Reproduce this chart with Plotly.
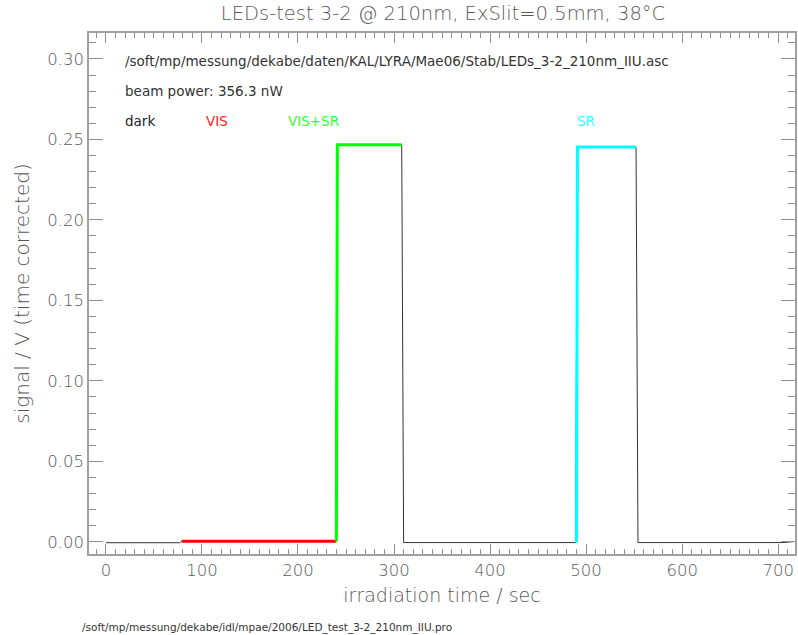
import plotly.graph_objects as go

# ---- data ----
full_t = [0, 77, 79, 239, 241, 308, 310, 489, 491, 552, 554, 705, 716]
full_v = [-0.0006, -0.0006, 0.0003, 0.0003, 0.2466, 0.2466, -0.0005, -0.0005, 0.2452, 0.2452, -0.0005, -0.0005, 0.0001]

vis_t = [79, 240]
vis_v = [0.0003, 0.0003]

vissr_t = [240, 241, 308]
vissr_v = [0.0003, 0.2466, 0.2466]

sr_t = [490, 491, 552]
sr_v = [-0.0005, 0.2452, 0.2452]

title_text = "LEDs-test 3-2 @ 210nm, ExSlit=0.5mm, 38\u00b0C"
xlabel = "irradiation time / sec"
ylabel = "signal / V (time corrected)"
file_text = "/soft/mp/messung/dekabe/daten/KAL/LYRA/Mae06/Stab/LEDs_3-2_210nm_IIU.asc"
power_text = "beam power: 356.3 nW"
pro_text = "/soft/mp/messung/dekabe/idl/mpae/2006/LED_test_3-2_210nm_IIU.pro"
legend_labels = ["dark", "VIS", "VIS+SR", "SR"]
legend_colors = ["#222222", "#ff2020", "#30ff30", "#30ffff"]
legend_x = [0.048, 0.1624, 0.2797, 0.6879]

FONT = "DejaVu Sans"
TXT = "#585858"
W, H = 798, 635
L, R, T, B = 89, 1, 33, 81

fig = go.Figure()
fig.add_trace(go.Scatter(x=full_t, y=full_v, mode="lines",
                         line=dict(color="#333333", width=1), showlegend=False))
fig.add_trace(go.Scatter(x=vis_t, y=vis_v, mode="lines",
                         line=dict(color="#ff0000", width=3), showlegend=False))
fig.add_trace(go.Scatter(x=vissr_t, y=vissr_v, mode="lines",
                         line=dict(color="#00ff00", width=3), showlegend=False))
fig.add_trace(go.Scatter(x=sr_t, y=sr_v, mode="lines",
                         line=dict(color="#00ffff", width=3), showlegend=False))

ann = []
ann.append(dict(text=file_text, x=0.048, y=0.946, xref="paper", yref="paper",
                xanchor="left", yanchor="middle", showarrow=False,
                font=dict(family=FONT, size=13.5, color="#333333")))
ann.append(dict(text=power_text, x=0.048, y=0.889, xref="paper", yref="paper",
                xanchor="left", yanchor="middle", showarrow=False,
                font=dict(family=FONT, size=13.5, color="#333333")))
for lab, col, lx in zip(legend_labels, legend_colors, legend_x):
    ann.append(dict(text=lab, x=lx, y=0.831, xref="paper", yref="paper",
                    xanchor="left", yanchor="middle", showarrow=False,
                    font=dict(family=FONT, size=13.5, color=col)))
ann.append(dict(text=pro_text, x=-0.0127, y=-0.142, xref="paper", yref="paper",
                xanchor="left", yanchor="middle", showarrow=False,
                font=dict(family=FONT, size=10.5, color="#333333")))

axis_common = dict(showgrid=False, zeroline=False, showline=True,
                   linecolor="#a0a0a0", linewidth=1.5, mirror="allticks",
                   ticks="inside", tickcolor="#909090", tickwidth=1,
                   tickfont=dict(family=FONT, size=16.5, color=TXT, weight=300))

fig.update_layout(
    width=W, height=H,
    margin=dict(l=L, r=R, t=T, b=B),
    paper_bgcolor="white", plot_bgcolor="white",
    title=dict(text=title_text, x=(L + (W - L - R) / 2) / W, xanchor="center",
               y=1 - 13 / H, yanchor="middle",
               font=dict(family=FONT, size=19.5, color=TXT, weight=300)),
    annotations=ann,
    xaxis=dict(range=[-17.6, 717.5], tickmode="linear", tick0=0, dtick=100,
               ticklen=10,
               minor=dict(ticks="inside", dtick=10, tick0=0, ticklen=5,
                          tickcolor="#909090", showgrid=False),
               title=dict(text=xlabel, standoff=10,
                          font=dict(family=FONT, size=19, color=TXT, weight=300)),
               **axis_common),
    yaxis=dict(range=[-0.0076, 0.3161], tickmode="linear", tick0=0, dtick=0.05,
               tickformat=".2f", ticklen=14,
               minor=dict(ticks="inside", dtick=0.01, tick0=0, ticklen=7,
                          tickcolor="#909090", showgrid=False),
               title=dict(text=ylabel, standoff=12,
                          font=dict(family=FONT, size=20, color=TXT, weight=300)),
               **axis_common),
)

fig.write_html("out.html")
